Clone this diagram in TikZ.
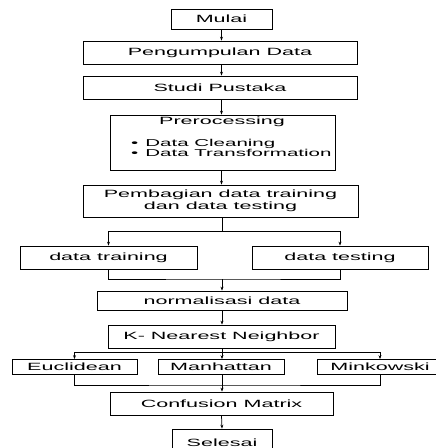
\documentclass[tikz,border=0pt]{standalone}
\usepackage{fontspec}
\setmainfont{Liberation Sans}[FakeStretch=2.05]
\usetikzlibrary{arrows.meta,calc}
\begin{document}
\begin{tikzpicture}[x=1pt,y=-1pt,
  box/.style={draw, line width=0.75pt, inner sep=0pt, font=\fontsize{10.5}{12}\selectfont},
  txt/.style={inner sep=0pt, font=\fontsize{10.5}{12}\selectfont},
  arr/.style={-{Stealth[length=4pt,width=3pt]}, line width=0.75pt},
  ln/.style={line width=0.75pt}]
\useasboundingbox (0,0) rectangle (436,448);
\clip (0,0) rectangle (436,448);
% boxes
\node[box, minimum width=101pt, minimum height=20pt] (mulai) at (221.5,19) {Mulai};
\node[box, minimum width=274pt, minimum height=23pt] (peng) at (220,52.5) {Pengumpulan Data};
\node[box, minimum width=274pt, minimum height=23pt] (studi) at (220,87.5) {Studi Pustaka};
\node[box, minimum width=225pt, minimum height=55pt] (prep) at (222.5,142.5) {};
\node[txt] (preph) at (222,122) {Prerocessing};
\node[txt, anchor=west, align=left, font=\fontsize{10}{10.5}\selectfont] (prepl) at (131,148) {•\hspace{7pt}Data Cleaning\\•\hspace{7pt}Data Transformation};
\node[box, minimum width=275pt, minimum height=32pt, align=center] (pemb) at (220.5,201) {Pembagian data training\\dan data testing};
\node[box, minimum width=177pt, minimum height=23pt] (train) at (108.5,257.5) {data training};
\node[box, minimum width=176pt, minimum height=23pt] (test) at (340,257.5) {data testing};
\node[box, minimum width=250pt, minimum height=19pt] (norm) at (222,300.5) {normalisasi data};
\node[box, minimum width=227pt, minimum height=23pt] (knn) at (221.5,336.5) {K- Nearest Neighbor};
\node[box, minimum width=125pt, minimum height=15pt] (eucl) at (74.5,367) {Euclidean};
\node[box, minimum width=126pt, minimum height=15pt] (manh) at (221,367) {Manhattan};
\node[box, minimum width=126pt, minimum height=15pt] (mink) at (380,367) {Minkowski};
\node[box, minimum width=223pt, minimum height=23pt] (conf) at (221.5,403.5) {Confusion Matrix};
\node[box, minimum width=100pt, minimum height=28pt] (sel) at (222,443) {Selesai};
% connectors
\draw[arr] (mulai.south) -- (mulai.south |- peng.north);
\draw[arr] (mulai.south |- peng.south) -- (mulai.south |- studi.north);
\draw[arr] (mulai.south |- studi.south) -- (mulai.south |- prep.north);
\draw[arr] (mulai.south |- prep.south) -- (mulai.south |- pemb.north);
\coordinate (sp) at (222,231);
\draw[ln] (pemb.south -| sp) -- (sp);
\draw[arr] (sp) -| (train.north);
\draw[arr] (sp) -| (test.north);
\coordinate (mg) at (222,279);
\draw[ln] (train.south) |- (mg) -| (test.south);
\draw[arr] (mg) -- (norm.north);
\draw[arr] (norm.south) -- (knn.north -| norm.south);
\coordinate (kb) at (222,352);
\draw[ln] (knn.south -| kb) -- (kb);
\draw[arr] (kb) -| (eucl.north);
\draw[arr] (kb) -- (manh.north -| kb);
\draw[arr] (kb) -| (mink.north);
\coordinate (km) at (222,385);
\draw[ln] (eucl.south) |- (km) -| (mink.south);
\draw[arr] (manh.south -| km) -- (conf.north -| km);
\draw[arr] (conf.south) -- (sel.north);
\end{tikzpicture}
\end{document}
